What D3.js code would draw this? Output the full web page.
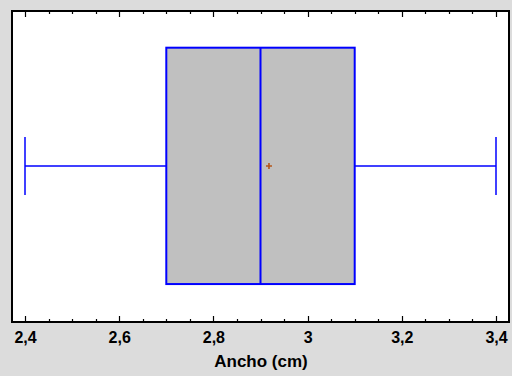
<!DOCTYPE html>
<html>
<head>
<meta charset="utf-8">
<script src="https://cdn.jsdelivr.net/npm/d3@7"></script>
<style>
  html, body { margin: 0; padding: 0; background: #dcdcdc; }
  svg { display: block; }
  .tick text { font-family: Arial, "Liberation Sans", sans-serif; font-weight: bold; font-size: 16px; fill: #000; }
</style>
</head>
<body>
<svg id="chart" width="512" height="376"></svg>
<script>
// Box-and-whisker summary for "Ancho (cm)"
const stats = ["min", "q1", "median", "q3", "max", "mean"];
const values = [2.4, 2.7, 2.9, 3.1, 3.4, 2.918];
const tickValues = [2.4, 2.6, 2.8, 3.0, 3.2, 3.4];
const tickLabels = ["2,4", "2,6", "2,8", "3", "3,2", "3,4"];
const axisTitle = "Ancho (cm)";

const s = Object.fromEntries(stats.map((k, i) => [k, values[i]]));

const plot = { left: 12, right: 509, top: 11, bottom: 322 };

const svg = d3.select("#chart");

const x = d3.scaleLinear().domain([2.4, 3.4]).range([25, 496]);
const y = d3.scaleLinear().domain([0, 1]).range([plot.bottom, plot.top]);

// plot area
svg.append("rect")
  .attr("x", plot.left).attr("y", plot.top)
  .attr("width", plot.right - plot.left).attr("height", plot.bottom - plot.top)
  .attr("fill", "#fff");

const boxTop = y(0.882), boxBot = y(0.122);
const capTop = y(0.595), capBot = y(0.408);
const mid = y(0.5016);

const g = svg.append("g");
const blue = "#0000ff";

// whiskers
g.append("line").attr("x1", x(s.min)).attr("x2", x(s.q1)).attr("y1", mid).attr("y2", mid)
  .attr("stroke", blue).attr("stroke-width", 1.5);
g.append("line").attr("x1", x(s.q3)).attr("x2", x(s.max)).attr("y1", mid).attr("y2", mid)
  .attr("stroke", blue).attr("stroke-width", 1.5);
[s.min, s.max].forEach(v => {
  g.append("line").attr("x1", x(v)).attr("x2", x(v)).attr("y1", capTop).attr("y2", capBot)
    .attr("stroke", blue).attr("stroke-width", 1.5);
});

// box
g.append("rect")
  .attr("x", x(s.q1)).attr("y", boxTop)
  .attr("width", x(s.q3) - x(s.q1)).attr("height", boxBot - boxTop)
  .attr("fill", "#c0c0c0").attr("stroke", blue).attr("stroke-width", 2);
g.append("line").attr("x1", x(s.median)).attr("x2", x(s.median)).attr("y1", boxTop).attr("y2", boxBot)
  .attr("stroke", blue).attr("stroke-width", 2);

// mean marker
const mx = x(s.mean);
g.append("path")
  .attr("d", `M${mx - 3},${mid}H${mx + 3}M${mx},${mid - 3}V${mid + 3}`)
  .attr("stroke", "#b5561a").attr("stroke-width", 1.6);

// ticks: majors every 0.2, minors every 0.05, on bottom and top edges
const minor = d3.range(0, 21).map(i => 2.4 + i * 0.05).filter(v => v <= 3.4001);
const tg = svg.append("g").attr("stroke", "#000").attr("stroke-width", 1.2);
minor.forEach((v, i) => {
  const len = i % 4 === 0 ? 6 : 3;
  const xx = Math.round(x(v)) + 0.5;
  tg.append("line").attr("x1", xx).attr("x2", xx).attr("y1", plot.bottom).attr("y2", plot.bottom - len);
  tg.append("line").attr("x1", xx).attr("x2", xx).attr("y1", plot.top).attr("y2", plot.top + len);
});

// bottom axis labels
const axis = d3.axisBottom(x).tickValues(tickValues)
  .tickFormat((d, i) => tickLabels[i]).tickSize(0).tickPadding(10);
const ag = svg.append("g").attr("transform", `translate(0,${plot.bottom})`).call(axis);
ag.select(".domain").remove();

// frame
svg.append("rect")
  .attr("x", plot.left).attr("y", plot.top)
  .attr("width", plot.right - plot.left).attr("height", plot.bottom - plot.top)
  .attr("fill", "none").attr("stroke", "#000").attr("stroke-width", 2);

// axis title
svg.append("text")
  .attr("x", 261).attr("y", 367)
  .attr("text-anchor", "middle")
  .attr("font-family", "Arial, 'Liberation Sans', sans-serif")
  .attr("font-weight", "bold").attr("font-size", 17)
  .text(axisTitle);
</script>
</body>
</html>
